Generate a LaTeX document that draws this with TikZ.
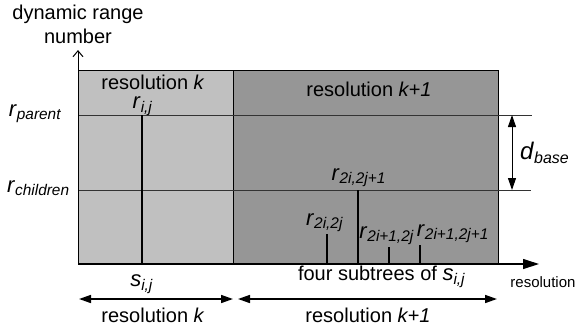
\documentclass[tikz,border=0pt]{standalone}
\usepackage{fontspec}
\setmainfont{Liberation Sans}
\usetikzlibrary{arrows.meta}

\definecolor{lightres}{RGB}{192,192,192}
\definecolor{darkres}{RGB}{150,150,150}

\newcommand{\symsub}[2]{\textit{#1}\textsubscript{\textit{#2}}}

\tikzset{
  lbl/.style={inner sep=0.75pt, font=\fontsize{10}{12}\selectfont},
  rlbl/.style={inner sep=0.75pt, font=\fontsize{11}{12}\selectfont, anchor=south},
  stick/.style={line width=0.8pt},
  level/.style={line width=0.4pt, color=black!80},
  span/.style={line width=0.8pt, {Triangle[length=6pt,width=4pt]}-{Triangle[length=6pt,width=4pt]}},
}

\begin{document}
\begin{tikzpicture}[x=0.5pt,y=0.5pt,yscale=-1,xscale=1]
\useasboundingbox (0,0) rectangle (579,328);

%Shape: Rectangle resolution k
\draw [fill=lightres, line width=0.5pt]  (78,70) rectangle (233,264) ;
%Shape: Rectangle resolution k+1
\draw [fill=darkres, line width=0.5pt]  (233,70) rectangle (498,264) ;

%Coordinates
\coordinate (yaxis) at (78,50);
\coordinate (origin) at (78,264);
\coordinate (xaxis) at (539,264);
\coordinate (parentL) at (78,115);
\coordinate (parentR) at (532,115);
\coordinate (childL) at (78,190);
\coordinate (childR) at (531,190);
\coordinate (dtop) at (512,115);
\coordinate (dbot) at (512,190);

%Straight Lines: levels
\draw [level]  (parentL) -- (parentR) ;
\draw [level]  (childL) -- (childR) ;
%Straight Lines: axes
\draw [line width=0.5pt, -{Straight Barb[length=3pt,width=5pt]}]  (origin) -- (yaxis) ;
\draw [line width=0.6pt, -{Triangle[length=8pt,width=5pt]}]  (origin) -- (xaxis) ;
%Straight Lines: d_base
\draw [line width=0.5pt, {Triangle[length=6pt,width=4pt]}-{Triangle[length=6pt,width=4pt]}]  (dtop) -- (dbot) ;

% Text Node
\node (rij) [rlbl, inner sep=0pt] at (143,116) {\symsub{r}{i,j}};
\node (r1) [rlbl] at (359,189) {\symsub{r}{2i,2j+1}};
\node (r0) [rlbl] at (325,234) {\symsub{r}{2i,2j}};
\node (r2) [rlbl] at (387,247) {\symsub{r}{2i+1,2j}};
\node (r3) [rlbl, anchor=south west] at (415,245) {\symsub{r}{2i+1,2j+1}};

%Straight Lines: sticks
\coordinate (sij) at (142,264);
\coordinate (b0) at (327,264);
\coordinate (b1) at (358,264);
\coordinate (b2) at (389,264);
\coordinate (b3) at (420,264);
\draw [stick]  (sij) -- (parentL -| sij) ;
\draw [stick]  (b0) -- (b0 |- r0.south) ;
\draw [stick]  (b1) -- (childL -| b1) ;
\draw [stick]  (b2) -- (b2 |- r2.south) ;
\draw [stick]  (b3) -- (b3 |- r3.south) ;

% Text Node
\node (title) [lbl, align=center] at (78,24) {dynamic range\\number};
\node (rpar) [lbl, anchor=east, font=\fontsize{11}{12}\selectfont] at (64,114) {\symsub{r}{parent}};
\node (rchi) [lbl, anchor=east, font=\fontsize{11}{12}\selectfont] at (72,188) {\symsub{r}{children}};
\node (resk) [lbl, inner sep=0pt] at (153,82) {resolution \textit{k}};
\node (resk1) [lbl] at (369,89) {resolution \textit{k+1}};
\node (dbase) [lbl, font=\fontsize{12}{14}\selectfont] at (545,153) {\symsub{d}{base}};
\node (sijl) [lbl, font=\fontsize{11}{12}\selectfont] at (142,284) {\symsub{s}{i,j}};
\node (four) [lbl] at (382,277) {four subtrees of {\fontsize{11}{12}\selectfont\symsub{s}{i,j}}};
\node (resx) [lbl, font=\fontsize{7.5}{9}\selectfont] at (543,282) {resolution};

%Straight Lines: resolution spans
\coordinate (ka) at (79,299);
\coordinate (kb) at (233,299);
\coordinate (k1a) at (238,299);
\coordinate (k1b) at (497,299);
\draw [span]  (ka) -- (kb) ;
\draw [span]  (k1a) -- (k1b) ;
\node (spank) [lbl] at (153,315) {resolution \textit{k}};
\node (spank1) [lbl] at (368,315) {resolution \textit{k+1}};
\end{tikzpicture}
\end{document}
